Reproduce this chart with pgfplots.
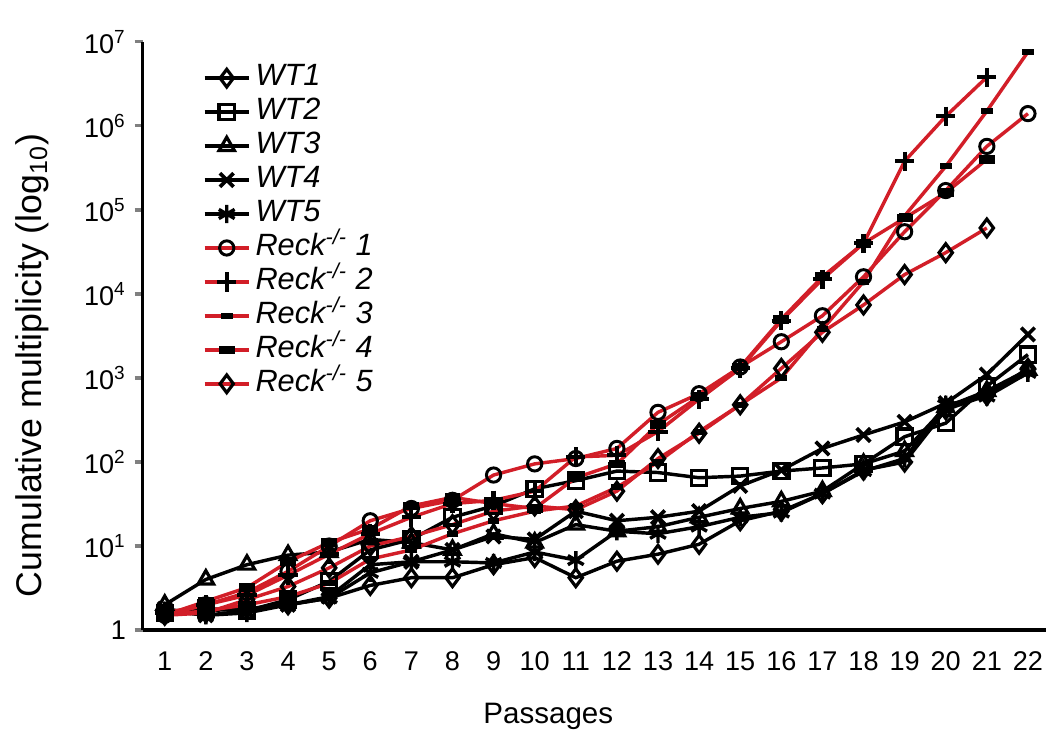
\documentclass[border=0pt]{standalone}
\usepackage{pgfplots}
\usepackage{pgfplotstable}
\pgfplotsset{compat=1.18}
\usepackage{fontspec}
\setmainfont{Liberation Sans}
\definecolor{reckred}{RGB}{210,30,40}

% cumulative multiplicity per passage
\pgfplotstableread{
p wta wtb wtc wtd wte
1 1.6 1.6 2.0 1.8 1.7
2 1.7 1.8 4.0 1.5 1.5
3 1.8 1.7 6.0 1.7 1.6
4 2.0 2.3 7.8 2.0 2.0
5 2.4 3.8 8.5 2.5 2.4
6 3.4 9 12 6 4.8
7 4.2 12 11 6.5 6.5
8 4.2 22 9 9 6.5
9 6.0 30 14 13 6.3
10 7.3 48 11 12 8.5
11 4.2 60 18 26 6.8
12 6.6 78 15 20 15
13 8.0 75 17 22 14
14 10.5 65 22 26 17
15 20 68 28 52 22
16 26 78 34 80 25
17 42 85 45 145 42
18 80 95 95 210 78
19 100 200 135 300 110
20 420 290 450 500 480
21 620 800 700 1100 600
22 1300 1900 1250 3300 1150
}\wttable

\pgfplotstableread{
p ra rb rc rd re
1 1.5 1.6 1.5 1.5 1.5
2 2.0 2.0 1.7 2.2 1.6
3 2.8 2.6 2.0 3.2 2.3
4 5 4.5 2.5 6.5 3.3
5 10 8 3.6 11 5.5
6 20 14 7 16 10
7 28 22 9 30 13
8 35 32 14 38 18
9 70 35 20 32 26
10 95 45 26 28 30
11 110 115 30 65 27
12 145 120 50 95 45
13 390 230 100 280 110
14 650 560 230 600 220
15 1350 1300 480 1350 480
16 2700 4800 1000 5000 1300
17 5500 15000 3800 16000 3500
18 16000 40000 14000 40000 7400
19 55000 380000 85000 80000 17000
20 170000 1300000 330000 160000 31000
21 570000 3800000 1500000 400000 61000
22 1400000 nan 7600000 nan nan
}\recktable

\begin{document}
\begin{tikzpicture}
\begin{axis}[
  scale only axis,
  width=367pt, height=239pt,
  ymode=log,
  xmin=0.465, xmax=22.44,
  ymin=1, ymax=1e7,
  axis lines=left,
  axis line style={-, line width=1.3pt},
  xtick={1,...,22},
  xtick style={draw=none},
  ytick={1,10,100,1000,10000,100000,1000000,10000000},
  yticklabels={1,10\textsuperscript{1},10\textsuperscript{2},10\textsuperscript{3},10\textsuperscript{4},10\textsuperscript{5},10\textsuperscript{6},10\textsuperscript{7}},
  yminorticks=false,
  ytick style={line width=1.3pt},
  tick align=outside,
  major tick length=3.3pt,
  /pgf/number format/assume math mode=true,
  tick label style={font=\fontsize{11}{13}\selectfont},
  xticklabel style={anchor=base, yshift=-13pt},
  xlabel={Passages},
  ylabel={Cumulative multiplicity (log\textsubscript{10})},
  xlabel style={font=\fontsize{12}{14}\selectfont, at={(axis description cs:0.449,-0.146)}, anchor=center},
  ylabel style={font=\fontsize{14.5}{16}\selectfont, at={(axis description cs:-0.122,0.45)}, anchor=center},
  legend style={at={(axis description cs:0.066,0.968)}, anchor=north west, draw=none, fill=none,
    font=\itshape\fontsize{12.5}{14}\selectfont, row sep=0pt, inner sep=0pt,
    nodes={text height=9pt, text depth=2.8pt, inner ysep=1pt}},
  legend cell align=left,
  legend image code/.code={\draw[mark repeat=2, mark phase=2] plot coordinates {(0pt,0pt) (9pt,0pt) (18pt,0pt)};},
  every axis plot/.append style={line width=1.4pt},
]
\addplot[black, mark=diamond, mark size=3.6pt, mark options={fill=white, line width=1.3pt}] table[x=p, y=wta] {\wttable};
\addlegendentry{WT1}
\addplot[black, mark=square, mark size=3.1pt, mark options={fill=white, line width=1.3pt}] table[x=p, y=wtb] {\wttable};
\addlegendentry{WT2}
\addplot[black, mark=triangle, mark size=3.6pt, mark options={fill=white, line width=1.3pt}] table[x=p, y=wtc] {\wttable};
\addlegendentry{WT3}
\addplot[black, mark=x, mark size=3.9pt, mark options={line width=1.5pt}] table[x=p, y=wtd] {\wttable};
\addlegendentry{WT4}
\addplot[black, mark=asterisk, mark size=3.7pt, mark options={line width=1.4pt}] table[x=p, y=wte] {\wttable};
\addlegendentry{WT5}
\addplot[reckred, mark=o, mark size=2.9pt, mark options={draw=black, fill=white, line width=1.2pt}] table[x=p, y=ra] {\recktable};
\addlegendentry{Reck\textsuperscript{-/-} 1}
\addplot[reckred, mark=+, mark size=3.9pt, mark options={draw=black, line width=1.7pt}] table[x=p, y=rb] {\recktable};
\addlegendentry{Reck\textsuperscript{-/-} 2}
\addplot[reckred, mark=-, mark size=2.4pt, mark options={draw=black, line width=2.5pt}] table[x=p, y=rc] {\recktable};
\addlegendentry{Reck\textsuperscript{-/-} 3}
\addplot[reckred, mark=-, mark size=3.2pt, mark options={draw=black, line width=3.5pt}] table[x=p, y=rd] {\recktable};
\addlegendentry{Reck\textsuperscript{-/-} 4}
\addplot[reckred, mark=diamond, mark size=3.6pt, mark options={draw=black, fill=white, line width=1.3pt}] table[x=p, y=re] {\recktable};
\addlegendentry{Reck\textsuperscript{-/-} 5}
\end{axis}
\pgfresetboundingbox
\path[use as bounding box] (-58pt,-41.5pt) rectangle (367.8pt,256pt);
\end{tikzpicture}
\end{document}
